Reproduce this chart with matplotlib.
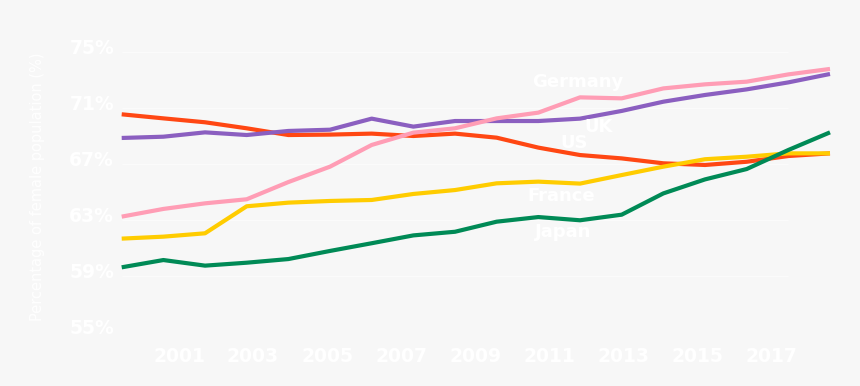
import matplotlib.pyplot as plt
import numpy as np
from matplotlib.transforms import ScaledTranslation

years = list(range(2000, 2018))

us = [70.55, 70.26, 69.98, 69.55, 69.07, 69.10, 69.17, 69.00, 69.17, 68.88,
      68.17, 67.64, 67.40, 67.05, 66.93, 67.16, 67.57, 67.76]
uk = [68.86, 68.95, 69.26, 69.07, 69.36, 69.45, 70.24, 69.67, 70.07, 70.07,
      70.07, 70.24, 70.79, 71.45, 71.93, 72.33, 72.83, 73.43]
germany = [63.24, 63.79, 64.19, 64.48, 65.71, 66.81, 68.36, 69.24, 69.55, 70.26,
           70.67, 71.76, 71.69, 72.40, 72.69, 72.88, 73.40, 73.79]
france = [61.67, 61.81, 62.05, 63.98, 64.24, 64.36, 64.43, 64.86, 65.14, 65.62,
          65.74, 65.60, 66.21, 66.81, 67.34, 67.52, 67.76, 67.76]
japan = [59.62, 60.14, 59.74, 59.95, 60.21, 60.79, 61.34, 61.90, 62.16, 62.88,
         63.21, 62.98, 63.38, 64.90, 65.90, 66.64, 68.00, 69.26]

y_ticks = [55, 59, 63, 67, 71, 75]
x_labels = ['2001', '2003', '2005', '2007', '2009', '2011', '2013', '2015', '2017']

W, H = 860, 386
fig = plt.figure(figsize=(W / 100, H / 100), dpi=100)
fig.patch.set_facecolor('#f7f7f7')
ax = fig.add_axes([121.7 / W, (H - 332) / H, (830 - 121.7) / W, 280 / H])
ax.set_facecolor('#f7f7f7')

ax.set_xlim(2000, 2017)
ax.set_ylim(55, 75)

# faint grid lines, they stop a year before the data ends
ax.hlines(y_ticks, 2000, 2016, color='#fbfbfb', linewidth=1, zorder=1)

series = [
    (us, '#ff4713'),
    (uk, '#8b5fc0'),
    (germany, '#ff9db5'),
    (france, '#ffcc00'),
    (japan, '#008a56'),
]
for vals, col in series:
    ax.plot(years, vals, color=col, linewidth=3, solid_capstyle='butt',
            clip_on=False, zorder=3)

lab = dict(color='white', fontsize=13, fontweight='bold', ha='center',
           va='center', zorder=4)
ax.text(2010.95, 72.86, 'Germany', **lab)
ax.text(2011.45, 69.64, 'UK', **lab)
ax.text(2010.85, 68.5, 'US', **lab)
ax.text(2010.55, 64.71, 'France', **lab)
ax.text(2010.6, 62.14, 'Japan', **lab)

ax.set_yticks(y_ticks)
ax.set_yticklabels([f'{v}%' for v in y_ticks])
ax.set_xticks(np.linspace(2001.375, 2015.59, len(x_labels)))
ax.set_xticklabels(x_labels)
ax.tick_params(length=0, labelcolor='white', labelsize=13.5)
ax.tick_params(axis='y', pad=5.5)
ax.tick_params(axis='x', pad=11)
for t in ax.get_yticklabels() + ax.get_xticklabels():
    t.set_fontweight('bold')
for t in ax.get_yticklabels():
    t.set_transform(t.get_transform() + ScaledTranslation(0, 0.06, fig.dpi_scale_trans))

for s in ax.spines.values():
    s.set_visible(False)

fig.text(38 / W, 1 - 187 / H, 'Percentage of female population (%)', rotation=90,
         color='white', fontsize=10.5, ha='center', va='center')

fig.savefig('out.png', dpi=100, facecolor=fig.get_facecolor())
